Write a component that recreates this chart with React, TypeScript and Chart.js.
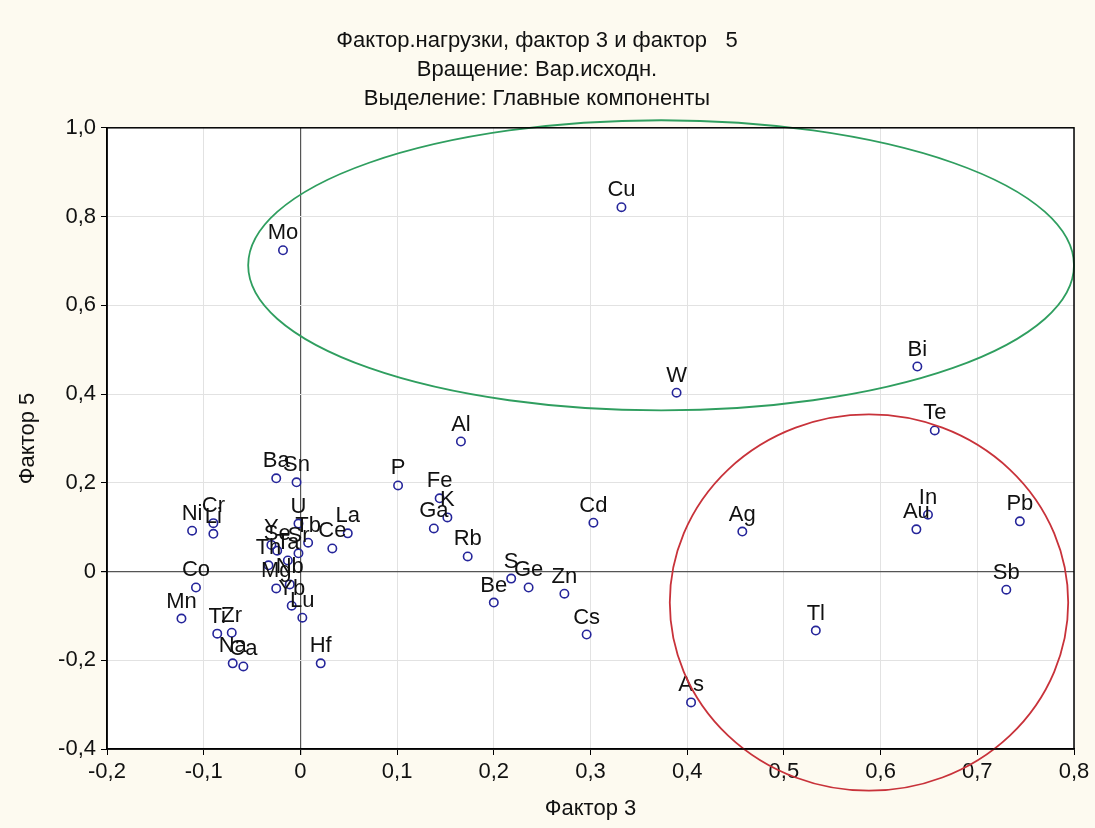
import React, { useEffect, useRef } from "react";
import { Chart, registerables } from "chart.js";

Chart.register(...registerables);

const elements = ["Cu","Mo","Bi","W","Te","Al","P","Fe","K","Ga","Rb","Cd","S","Ge","Zn","Be","Cs","As","Ag","Tl","Au","In","Pb","Sb","Ba","Sn","Ni","Cr","Li","Co","Mn","Ti","Zr","Na","Ca","Hf","U","Tb","Ce","La","Y","Se","Sr","Ta","Th","Nb","Mg","Yb","Lu"];
const factor3 = [0.332,-0.018,0.638,0.389,0.656,0.166,0.101,0.144,0.152,0.138,0.173,0.303,0.218,0.236,0.273,0.200,0.296,0.404,0.457,0.533,0.637,0.649,0.744,0.730,-0.025,-0.004,-0.112,-0.090,-0.090,-0.108,-0.123,-0.086,-0.071,-0.070,-0.059,0.021,-0.002,0.008,0.033,0.049,-0.030,-0.024,-0.002,-0.013,-0.033,-0.011,-0.025,-0.009,0.002];
const factor5 = [0.821,0.724,0.462,0.403,0.318,0.293,0.194,0.165,0.122,0.097,0.034,0.110,-0.016,-0.036,-0.050,-0.070,-0.142,-0.295,0.090,-0.133,0.095,0.128,0.113,-0.041,0.210,0.201,0.092,0.109,0.085,-0.036,-0.106,-0.140,-0.138,-0.207,-0.214,-0.207,0.108,0.065,0.052,0.086,0.060,0.047,0.041,0.025,0.014,-0.029,-0.038,-0.077,-0.104];

const titleLines = ["Фактор.нагрузки, фактор 3 и фактор   5", "Вращение: Вар.исходн.", "Выделение: Главные компоненты"];
const xTitle = "Фактор 3";
const yTitle = "Фактор 5";

// ellipses: [cx, cy, rx, ry] in data units
const greenEllipse = [0.373, 0.690, 0.427, 0.327];
const redEllipse = [0.588, -0.070, 0.206, 0.424];

const FONT = "'Liberation Sans', Arial, sans-serif";
const FS = 22;

const fmt = (v: any) => {
  const n = Math.round(Number(v) * 10) / 10;
  return n === 0 ? "0" : n.toFixed(1).replace(".", ",");
};

const bgPlugin = {
  id: "bgPlugin",
  beforeDraw(chart: any) {
    const { ctx, chartArea } = chart;
    ctx.save();
    ctx.fillStyle = "#fdfaf0";
    ctx.fillRect(0, 0, chart.width, chart.height);
    ctx.fillStyle = "#ffffff";
    ctx.fillRect(chartArea.left, chartArea.top, chartArea.right - chartArea.left, chartArea.bottom - chartArea.top);
    ctx.restore();
  },
  afterDatasetsDraw(chart: any) {
    const { ctx, chartArea, scales } = chart;
    const xs = scales.x, ys = scales.y;
    ctx.save();
    ctx.font = FS + "px " + FONT;
    ctx.fillStyle = "#111";
    ctx.textAlign = "center";
    ctx.textBaseline = "alphabetic";
    for (let i = 0; i < elements.length; i++) {
      const px = xs.getPixelForValue(factor3[i]);
      const py = ys.getPixelForValue(factor5[i]);
      ctx.fillText(elements[i], px, py - 11);
    }
    const drawEllipse = (e: number[], color: string) => {
      const cx = xs.getPixelForValue(e[0]);
      const cy = ys.getPixelForValue(e[1]);
      const rx = Math.abs(xs.getPixelForValue(e[0] + e[2]) - cx);
      const ry = Math.abs(ys.getPixelForValue(e[1] + e[3]) - cy);
      ctx.beginPath();
      ctx.ellipse(cx, cy, rx, ry, 0, 0, Math.PI * 2);
      ctx.strokeStyle = color;
      ctx.lineWidth = 1.8;
      ctx.stroke();
    };
    drawEllipse(greenEllipse, "#2f9e5f");
    drawEllipse(redEllipse, "#c8323a");
    ctx.strokeStyle = "#000";
    ctx.lineWidth = 1.5;
    ctx.strokeRect(chartArea.left, chartArea.top, chartArea.right - chartArea.left, chartArea.bottom - chartArea.top);
    ctx.restore();
  },
};

export default function App() {
  const ref = useRef<HTMLCanvasElement | null>(null);
  useEffect(() => {
    if (!ref.current) return;
    const gridColor = (c: any) => (c.tick && Math.abs(c.tick.value) < 1e-9 ? "#555" : "#e2e2e2");
    const gridWidth = (c: any) => (c.tick && Math.abs(c.tick.value) < 1e-9 ? 1.2 : 1);
    const chart = new Chart(ref.current, {
      type: "scatter",
      data: {
        datasets: [
          {
            label: "loadings",
            data: factor3.map((x, i) => ({ x, y: factor5[i] })),
            pointStyle: "circle",
            pointRadius: 4.2,
            pointBorderWidth: 1.6,
            pointBorderColor: "#25259a",
            pointBackgroundColor: "rgba(255,255,255,0)",
          },
        ],
      },
      options: {
        responsive: false,
        animation: false,
        devicePixelRatio: 1,
        layout: { padding: { left: 0, right: 21, top: 0, bottom: 0 } },
        plugins: {
          legend: { display: false },
          tooltip: { enabled: false },
          title: {
            display: true,
            text: titleLines,
            color: "#111",
            font: { family: FONT, size: FS, weight: "normal", lineHeight: 1.3 },
            padding: { top: 27, bottom: 15 },
          },
        },
        scales: {
          x: {
            type: "linear",
            min: -0.2,
            max: 0.8,
            afterFit(scale: any) { scale.height = 79; },
            ticks: {
              stepSize: 0.1,
              padding: 4,
              color: "#111",
              font: { family: FONT, size: FS },
              callback: fmt,
            },
            grid: { color: gridColor, lineWidth: gridWidth, tickColor: "#000", tickLength: 6 },
            border: { display: true, color: "#000", width: 1.5 },
            title: {
              display: true,
              text: xTitle,
              color: "#111",
              font: { family: FONT, size: FS },
              padding: { top: 0, bottom: 6 },
            },
          },
          y: {
            type: "linear",
            min: -0.4,
            max: 1.0,
            afterFit(scale: any) { scale.width = 107; },
            ticks: {
              stepSize: 0.2,
              padding: 5,
              color: "#111",
              font: { family: FONT, size: FS },
              callback: fmt,
            },
            grid: { color: gridColor, lineWidth: gridWidth, tickColor: "#000", tickLength: 6 },
            border: { display: true, color: "#000", width: 1.5 },
            title: {
              display: true,
              text: yTitle,
              color: "#111",
              font: { family: FONT, size: FS },
              padding: { top: 15, bottom: 0 },
            },
          },
        },
      },
      plugins: [bgPlugin],
    } as any);
    return () => chart.destroy();
  }, []);
  return (
    <div style={{ position: "fixed", left: 0, top: 0, width: 1095, height: 828, background: "#fdfaf0" }}>
      <canvas ref={ref} width={1095} height={828} style={{ width: 1095, height: 828, display: "block" }} />
    </div>
  );
}
